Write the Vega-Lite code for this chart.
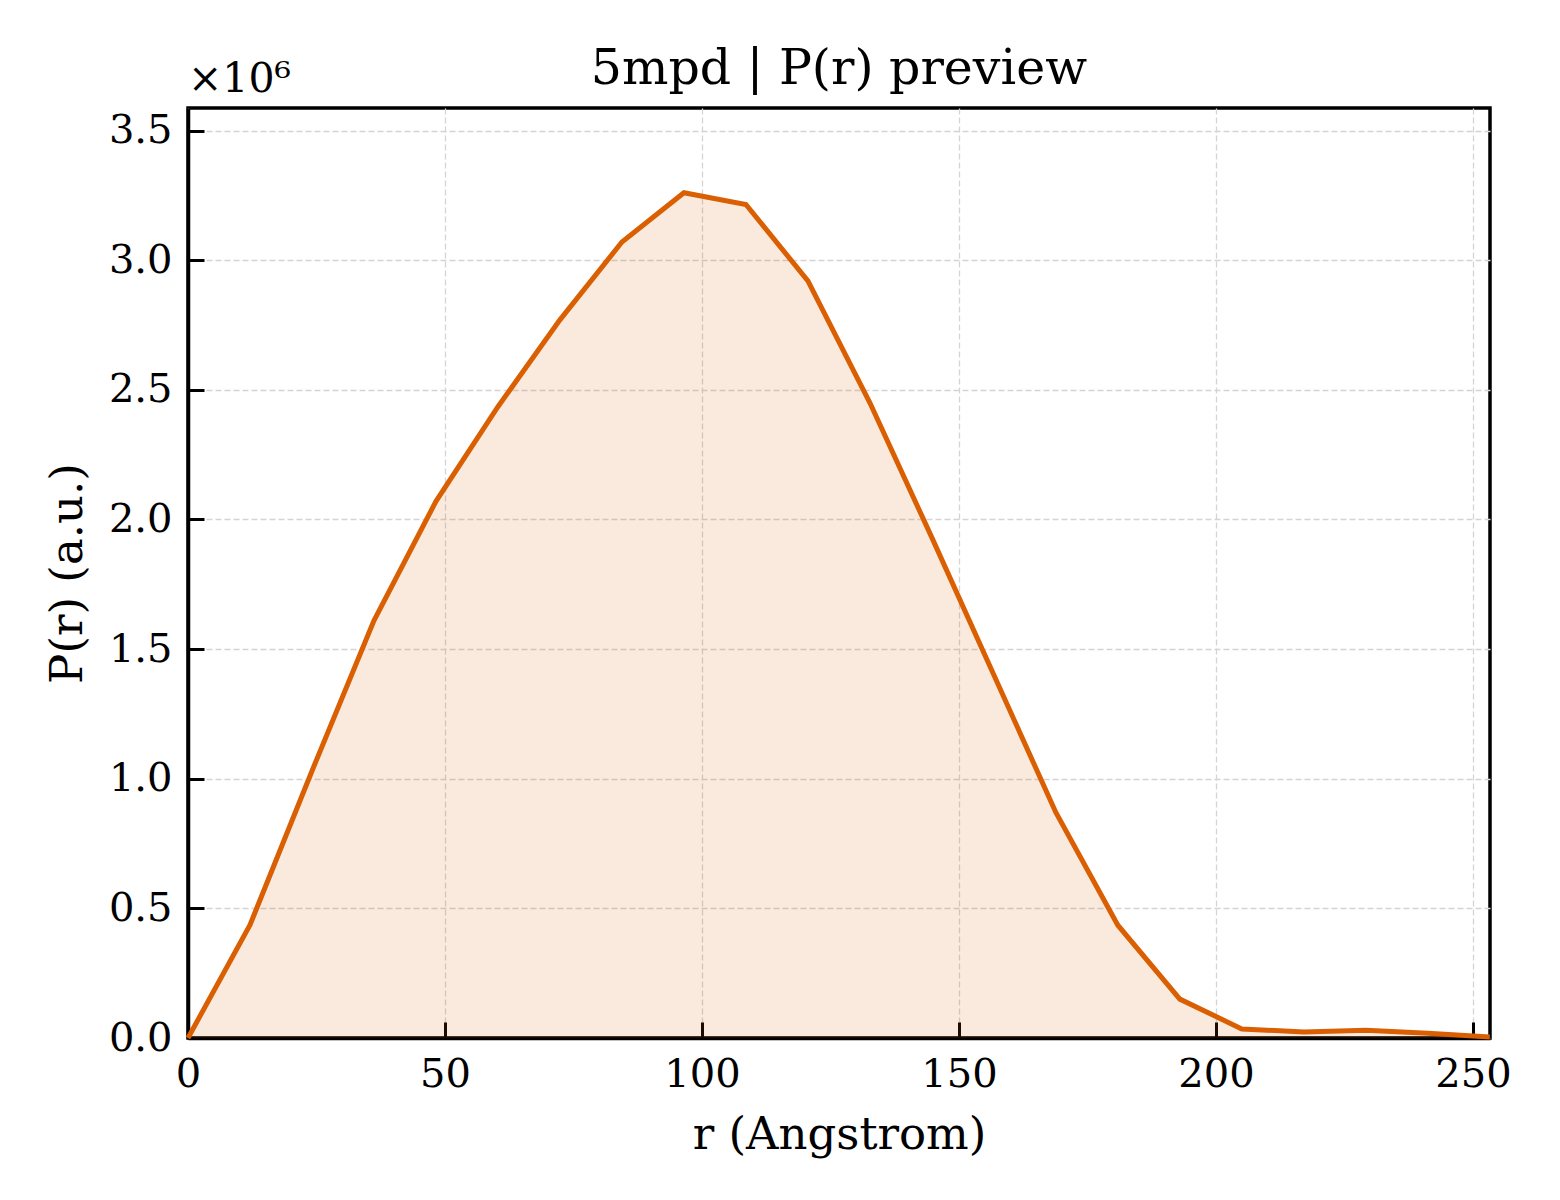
{
  "$schema": "https://vega.github.io/schema/vega-lite/v6.json",
  "autosize": "none",
  "padding": {"left": 188, "top": 108, "right": 70, "bottom": 162},
  "width": 1302,
  "height": 930,
  "background": "white",
  "title": {
    "text": "5mpd | P(r) preview",
    "font": "DejaVu Serif",
    "fontSize": 49,
    "fontWeight": "normal",
    "color": "black",
    "offset": -35
  },
  "datasets": {
    "pr": [
      {"r": 0, "p": 0},
      {"r": 12.06, "p": 436000},
      {"r": 24.12, "p": 1030000},
      {"r": 36.18, "p": 1610000},
      {"r": 48.24, "p": 2070000},
      {"r": 60.3, "p": 2435000},
      {"r": 72.36, "p": 2770000},
      {"r": 84.42, "p": 3070000},
      {"r": 96.48, "p": 3260000},
      {"r": 108.54, "p": 3215000},
      {"r": 120.6, "p": 2920000},
      {"r": 132.66, "p": 2450000},
      {"r": 144.72, "p": 1930000},
      {"r": 156.78, "p": 1400000},
      {"r": 168.84, "p": 870000},
      {"r": 180.9, "p": 435000},
      {"r": 192.96, "p": 150000},
      {"r": 205.02, "p": 35000},
      {"r": 217.08, "p": 23000},
      {"r": 229.14, "p": 30000},
      {"r": 241.2, "p": 18000},
      {"r": 253.26, "p": 4000}
    ],
    "note": [
      {"r": 0, "p": 3587000, "label": "×10⁶"}
    ]
  },
  "layer": [
    {
      "data": {"name": "pr"},
      "mark": {"type": "area", "color": "#D95F02", "fillOpacity": 0.13},
      "encoding": {
        "x": {
          "field": "r",
          "type": "quantitative",
          "scale": {"domain": [0, 253.3], "nice": false, "zero": false},
          "axis": {
            "title": "r (Angstrom)",
            "values": [0, 50, 100, 150, 200, 250],
            "format": "d",
            "labelFlush": false,
            "titlePadding": 18
          }
        },
        "y": {
          "field": "p",
          "type": "quantitative",
          "scale": {"domain": [0, 3587000], "nice": false},
          "axis": {
            "title": "P(r) (a.u.)",
            "values": [0, 500000, 1000000, 1500000, 2000000, 2500000, 3000000, 3500000],
            "labelExpr": "format(datum.value / 1000000, '.1f')",
            "labelFlush": false,
            "titlePadding": 18
          }
        }
      }
    },
    {
      "data": {"name": "pr"},
      "mark": {"type": "line", "color": "#D95F02", "strokeWidth": 5},
      "encoding": {
        "x": {"field": "r", "type": "quantitative"},
        "y": {"field": "p", "type": "quantitative"}
      }
    },
    {
      "data": {"name": "note"},
      "mark": {
        "type": "text",
        "font": "DejaVu Serif",
        "fontSize": 41,
        "align": "left",
        "baseline": "bottom",
        "dy": -7,
        "color": "black"
      },
      "encoding": {
        "x": {"field": "r", "type": "quantitative"},
        "y": {"field": "p", "type": "quantitative"},
        "text": {"field": "label", "type": "nominal"}
      }
    }
  ],
  "config": {
    "view": {"stroke": "black", "strokeWidth": 3.5},
    "font": "DejaVu Serif",
    "axis": {
      "labelFont": "DejaVu Serif",
      "labelFontSize": 40,
      "labelColor": "black",
      "titleFont": "DejaVu Serif",
      "titleFontSize": 45,
      "titleFontWeight": "normal",
      "titleColor": "black",
      "domainColor": "black",
      "domainWidth": 3.5,
      "tickColor": "black",
      "tickWidth": 3,
      "tickSize": -16,
      "labelPadding": 32,
      "grid": true,
      "gridColor": "#d4d4d4",
      "gridWidth": 1.3,
      "gridDash": [6, 3]
    }
  }
}
